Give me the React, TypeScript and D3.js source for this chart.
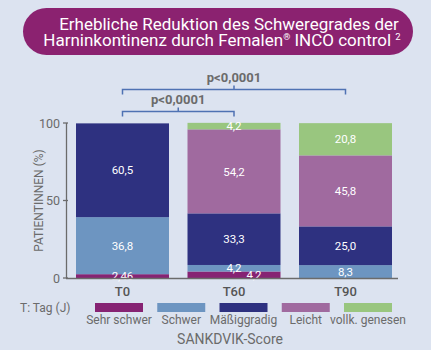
import React from "react";
import * as d3 from "d3";

// SANKDVIK-Score Verteilung je Zeitpunkt (% Patientinnen)
const timepoints = ["T0", "T60", "T90"];
const severities = ["Sehr schwer", "Schwer", "Mäßiggradig", "Leicht", "vollk. genesen"];
const sehrSchwer = [2.46, 4.2, 0];
const schwer = [36.8, 4.2, 8.3];
const maessig = [60.5, 33.3, 25.0];
const leicht = [0, 54.2, 45.8];
const genesen = [0, 4.2, 20.8];
const yTicks = [0, 50, 100];
const colors = ["#862373", "#6d95c1", "#2e3180", "#a06a9f", "#99c67f"];

const W = 435;
const H = 350;
const GRAY = "#6b6b6b";
const FONT = "Roboto, 'Noto Sans', sans-serif";

export default function App() {
  const series = [sehrSchwer, schwer, maessig, leicht, genesen];
  const rows = timepoints.map((t, i) => {
    const r: any = { t };
    severities.forEach((s, k) => (r[s] = series[k][i]));
    return r;
  });
  const stacked = d3.stack<any>().keys(severities)(rows);

  const x = d3.scaleBand().domain(timepoints).range([76, 392]).paddingInner(0.166);
  const y = d3.scaleLinear().domain([0, 100]).range([278, 123]);

  const legendX = d3.scalePoint().domain(severities).range([119, 368]);
  const fmt = (v: number) => String(v).replace(".", ",").replace(/^(\d+)$/, "$1,0");

  const cx = (t: string) => (x(t) as number) + x.bandwidth() / 2;

  // brackets for significance
  const brackets = [
    { from: "T0", to: "T90", yy: 89.5, label: "p<0,0001" },
    { from: "T0", to: "T60", yy: 111.5, label: "p<0,0001" },
  ];

  return (
    <svg width={W} height={H} style={{ position: "absolute", left: 0, top: 0 }}>
      <rect x={0} y={0} width={431} height={H} fill="#dce3f0" />

      {/* title */}
      <rect x={23} y={8} width={390} height={47} rx={23.5} fill="#8b2270" />
      <text x={229} y={30} textAnchor="middle" fill="#fff" fontFamily={FONT} fontSize={17}>
        Erhebliche Reduktion des Schweregrades der
      </text>
      <text x={222} y={46} textAnchor="middle" fill="#fff" fontFamily={FONT} fontSize={17}>
        Harninkontinenz durch Femalen
        <tspan fontSize={9} dy={-6}>®</tspan>
        <tspan dy={6}> INCO control </tspan>
        <tspan fontSize={9.5} dy={-6}>2</tspan>
      </text>

      {/* bars */}
      {stacked.map((layer, k) => (
        <g key={layer.key} fill={colors[k]}>
          {layer.map((d, i) =>
            d[1] - d[0] > 0 ? (
              <rect
                key={i}
                x={x(d.data.t)}
                y={y(d[1])}
                width={x.bandwidth()}
                height={y(d[0]) - y(d[1])}
              />
            ) : null
          )}
        </g>
      ))}
      {stacked.map((layer, k) => (
        <g key={"l" + layer.key}>
          {layer.map((d, i) => {
            const v = d[1] - d[0];
            if (v <= 0) return null;
            const shift = k === 0 && i === 1 ? 20 : 0;
            return (
              <text
                key={i}
                x={cx(d.data.t) + shift}
                y={y((d[0] + d[1]) / 2)}
                dy="0.36em"
                textAnchor="middle"
                fill="#fff"
                fontFamily={FONT}
                fontSize={11.5}
              >
                {fmt(series[k][i])}
              </text>
            );
          })}
        </g>
      ))}

      {/* axes */}
      <line x1={66.5} x2={66.5} y1={y(100)} y2={y(0)} stroke={GRAY} strokeWidth={1.3} />
      {yTicks.map((t) => (
        <g key={t}>
          <line x1={63} x2={68} y1={y(t)} y2={y(t)} stroke={GRAY} strokeWidth={1.3} />
          <text x={60} y={y(t)} dy="0.36em" textAnchor="end" fill={GRAY} fontFamily={FONT} fontSize={12.5}>
            {t}
          </text>
        </g>
      ))}
      <line x1={66} x2={398} y1={278.5} y2={278.5} stroke={GRAY} strokeWidth={1.3} />
      {timepoints.map((t) => (
        <text key={t} x={cx(t)} y={296} textAnchor="middle" fill="#555" fontFamily={FONT} fontSize={13} fontWeight={500}>
          {t}
        </text>
      ))}
      <text
        transform={`translate(43,${y(50)}) rotate(-90)`}
        textAnchor="middle"
        fill={GRAY}
        fontFamily={FONT}
        fontSize={12}
      >
        PATIENTINNEN (%)
      </text>

      {/* significance brackets */}
      {brackets.map((b, i) => {
        const x1 = cx(b.from);
        const x2 = cx(b.to);
        const m = (x1 + x2) / 2;
        return (
          <g key={i}>
            <path
              d={`M${x1},${b.yy + 5}V${b.yy}H${x2}V${b.yy + 5}M${m},${b.yy}V${b.yy - 4}`}
              fill="none"
              stroke="#4f72b3"
              strokeWidth={1.5}
            />
            <text x={m} y={b.yy - 8} textAnchor="middle" fill={GRAY} fontFamily={FONT} fontSize={13} fontWeight={700}>
              {b.label}
            </text>
          </g>
        );
      })}

      {/* legend */}
      <text x={20} y={312} fill={GRAY} fontFamily={FONT} fontSize={12}>
        T: Tag (J)
      </text>
      {severities.map((s, k) => (
        <g key={s}>
          <rect x={(legendX(s) as number) - 24} y={303} width={48} height={9} fill={colors[k]} />
          <text x={legendX(s)} y={324} textAnchor="middle" fill={GRAY} fontFamily={FONT} fontSize={12}>
            {s}
          </text>
        </g>
      ))}
      <text x={230} y={344} textAnchor="middle" fill={GRAY} fontFamily={FONT} fontSize={14}>
        SANKDVIK-Score
      </text>
    </svg>
  );
}
